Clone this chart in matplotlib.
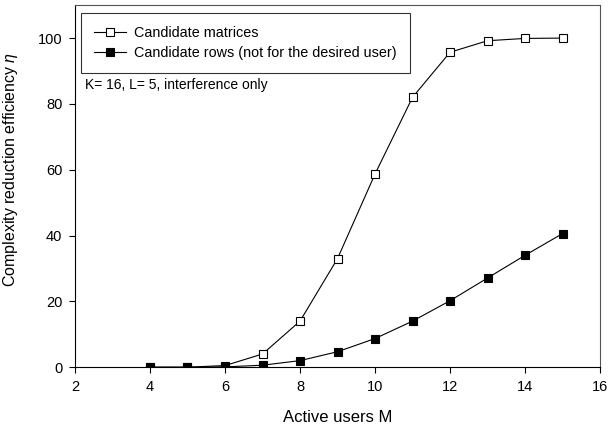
import matplotlib
matplotlib.use("Agg")
import matplotlib.pyplot as plt
from matplotlib.ticker import MultipleLocator

plt.rcParams['font.family'] = ['Liberation Sans', 'DejaVu Sans']
plt.rcParams['mathtext.fontset'] = 'custom'
plt.rcParams['mathtext.it'] = 'Liberation Sans:italic'
plt.rcParams['mathtext.rm'] = 'Liberation Sans'

users = [4, 5, 6, 7, 8, 9, 10, 11, 12, 13, 14, 15]
cand_matrices = [0.0, 0.0, 0.5, 4.0, 14.0, 33.0, 58.7, 82.0, 95.7, 99.2, 99.9, 100.0]
cand_rows = [0.0, 0.0, 0.1, 0.6, 2.0, 4.7, 8.7, 14.0, 20.2, 27.1, 34.0, 40.6]

fig = plt.figure(figsize=(6.12, 4.32), dpi=100)
ax = fig.add_axes([0.1225, 0.150, 0.858, 0.838])

ax.plot(users, cand_matrices, color='black', lw=0.8, marker='s', ms=6,
        mfc='white', mec='black', mew=0.8, label='Candidate matrices')
ax.plot(users, cand_rows, color='black', lw=0.8, marker='s', ms=6,
        mfc='black', mec='black', mew=0.8,
        label='Candidate rows (not for the desired user)')

ax.set_xlim(2, 16)
ax.set_ylim(0, 110)
ax.xaxis.set_major_locator(MultipleLocator(2))
ax.yaxis.set_major_locator(MultipleLocator(20))
ax.tick_params(direction='out', length=4, width=0.8, labelsize=10.5, pad=5)
for s in ax.spines.values():
    s.set_linewidth(0.8)
ax.spines['top'].set_color('#555555')
ax.spines['right'].set_color('#555555')

ax.set_xlabel('Active users M', fontsize=12, labelpad=12)
ax.set_ylabel(r'Complexity reduction efficiency $\eta$', fontsize=11.5, labelpad=10)
ax.yaxis.set_label_coords(-0.105, 0.545)

leg = ax.legend(loc='upper left', bbox_to_anchor=(0.011, 0.978), borderaxespad=0,
                fontsize=10.4, frameon=True, fancybox=False, edgecolor='black',
                handlelength=2.2, handletextpad=0.6, borderpad=0.9,
                labelspacing=0.4)
leg.get_frame().set_linewidth(0.8)

ax.text(0.019, 0.78, 'K= 16, L= 5, interference only', transform=ax.transAxes,
        fontsize=10, va='center', ha='left')

fig.savefig('out.png', dpi=100)
